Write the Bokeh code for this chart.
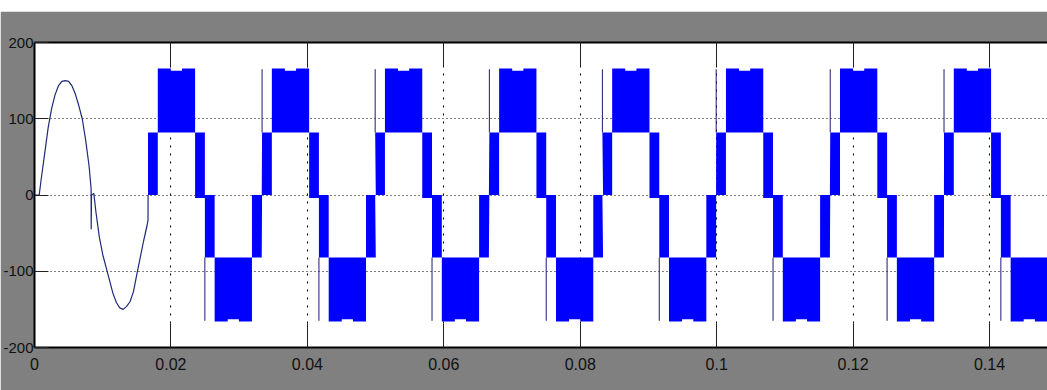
from bokeh.plotting import figure
from bokeh.models import LinearAxis, Range1d, FixedTicker, Spacer
from bokeh.layouts import column
from bokeh.embed import file_html
from bokeh.resources import INLINE

# ---------------- data ----------------
x_ticks = [0, 0.02, 0.04, 0.06, 0.08, 0.1, 0.12, 0.14]
x_tick_labels = ["0", "0.02", "0.04", "0.06", "0.08", "0.1", "0.12", "0.14"]
y_ticks = [-200, -100, 0, 100, 200]
y_tick_labels = ["-200", "-100", "0", "100", "200"]

# start-up sine trace (time in s, value)
sine_t = [0.0, 0.00069, 0.0010, 0.0015, 0.0020, 0.0025, 0.0030, 0.0035, 0.0040,
          0.0045, 0.0050, 0.0055, 0.0060, 0.0065, 0.0070, 0.0075, 0.0080, 0.0083,
          0.00831, 0.00836, 0.0087, 0.0090, 0.0095, 0.0100, 0.0105, 0.0110,
          0.0115, 0.0120, 0.0125, 0.0130, 0.0135, 0.0140, 0.0145, 0.0150,
          0.0155, 0.0160, 0.0165, 0.01664, 0.01665]
sine_v = [0, 0, 22, 55, 88, 113, 131, 143, 149,
          150, 149, 143, 132, 117, 100, 72, 38, 8,
          -45, 0, 2, -22, -55, -78, -95, -112,
          -129, -141, -148, -150, -146, -140, -127, -104,
          -82, -60, -40, -33, 0]

# multilevel inverter output: start time of each cycle, period, and the
# level pair that the PWM switches between in each part of a cycle
cycle_start = [0.01664, 0.03336, 0.04994, 0.06668, 0.08325, 0.09993, 0.11665, 0.13333]
period = 0.01667
seg_frac = [0.0, 0.086, 0.414, 0.5, 0.586, 0.914, 1.0]
seg_lo = [0, 82, -4, -82, -166, -82]
seg_hi = [82, 166, 82, 0, -82, 0]
# small dip on the outer edge of the top / bottom blocks
notch_frac = [0.35, 0.65]
notch_depth = 3
# thin switching spikes at the start of each half cycle
spike_pos = [82, 165]
spike_neg = [-82, -165]

# ---------------- build the marks ----------------
env_x, env_lo, env_hi = [], [], []
def add_piece(l, r, lo, hi):
    env_x.extend([l, r]); env_lo.extend([lo, lo]); env_hi.extend([hi, hi])

for s in cycle_start:
    for i in range(6):
        a = s + seg_frac[i] * period
        b = s + seg_frac[i + 1] * period
        lo, hi = seg_lo[i], seg_hi[i]
        if i in (1, 4):
            n1 = a + notch_frac[0] * (b - a)
            n2 = a + notch_frac[1] * (b - a)
            add_piece(a, n1, lo, hi)
            add_piece(n1, n2, lo + (notch_depth if i == 4 else 0), hi - (notch_depth if i == 1 else 0))
            add_piece(n2, b, lo, hi)
        else:
            add_piece(a, b, lo, hi)

sp_x, sp_y0, sp_y1 = [], [], []
for k, s in enumerate(cycle_start):
    if k > 0:
        sp_x.append(s); sp_y0.append(spike_pos[0]); sp_y1.append(spike_pos[1])
    sn = s + seg_frac[3] * period
    sp_x.append(sn); sp_y0.append(spike_neg[0]); sp_y1.append(spike_neg[1])

GRAY = "#808080"
FONT = "Liberation Sans"

p = figure(width=1047, height=379, x_range=Range1d(0, 0.1485), y_range=Range1d(-200, 200),
           output_backend="svg", toolbar_location=None,
           min_border_left=32, min_border_right=0, min_border_top=31, min_border_bottom=43,
           border_fill_color=GRAY, background_fill_color="white", outline_line_color=None)

# grids
p.xgrid.ticker = FixedTicker(ticks=x_ticks)
p.ygrid.ticker = FixedTicker(ticks=y_ticks)
p.xgrid.grid_line_color = "black"
p.xgrid.grid_line_dash = "2 6"
p.xgrid.grid_line_width = 1
p.ygrid.grid_line_color = "black"
p.ygrid.grid_line_dash = "1 3"
p.ygrid.grid_line_width = 1

# data
p.varea(x=env_x, y1=env_lo, y2=env_hi, fill_color="#0000FF")
p.segment(x0=sp_x, y0=sp_y0, x1=sp_x, y1=sp_y1, line_color="#1c1c70", line_width=1)
p.line(sine_t, sine_v, line_color="#1f2a78", line_width=1.2)

# axes
def style_axis(ax, tick_len, size):
    ax.axis_line_color = "black"
    ax.axis_line_width = 2
    ax.major_tick_in = tick_len
    ax.major_tick_out = 0
    ax.major_tick_line_color = "#202020"
    ax.major_tick_line_width = 1
    ax.minor_tick_line_color = None
    ax.major_label_text_font = FONT
    ax.major_label_text_font_size = size
    ax.major_label_text_color = "#111111"

xa = p.xaxis[0]
xa.ticker = FixedTicker(ticks=x_ticks)
xa.major_label_overrides = dict(zip(x_ticks, x_tick_labels))
style_axis(xa, 24, "16px")
xa.major_label_standoff = 10

ya = p.yaxis[0]
ya.ticker = FixedTicker(ticks=y_ticks)
ya.major_label_overrides = dict(zip(y_ticks, y_tick_labels))
style_axis(ya, 14, "15px")
ya.major_label_standoff = 1

top_ax = LinearAxis(ticker=FixedTicker(ticks=x_ticks))
style_axis(top_ax, 24, "15px")
top_ax.major_label_overrides = {t: "" for t in x_ticks}
top_ax.major_label_standoff = 0
p.add_layout(top_ax, "above")

layout = column(Spacer(width=1047, height=11), p)
open("out.html", "w").write(file_html(layout, INLINE))
